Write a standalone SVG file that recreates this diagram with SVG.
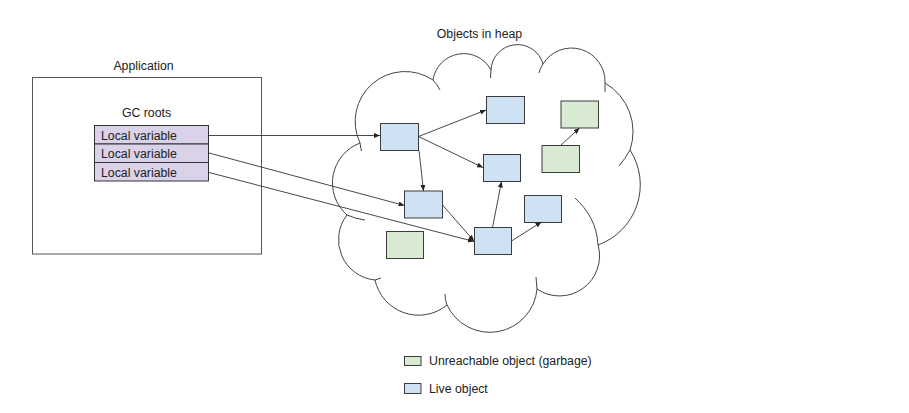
<svg xmlns="http://www.w3.org/2000/svg" width="909" height="413" viewBox="0 0 909 413">
<style>
text{font-family:"Liberation Sans",Arial,sans-serif;font-size:12.3px;fill:#222}
.frame{fill:#fff;stroke:#555;stroke-width:1}
.lv{fill:#d9d2e9;stroke:#333;stroke-width:1}
.live{fill:#cfe2f3;stroke:#3c3c3c;stroke-width:1}
.dead{fill:#d9ead3;stroke:#3c3c3c;stroke-width:1}
.cloud{fill:#fff;stroke:#444;stroke-width:1}
.tail{fill:none;stroke:#444;stroke-width:1}
.conn line{stroke:#333;stroke-width:0.9;marker-end:url(#ah)}
</style>
<defs>
<marker id="ah" markerWidth="6" markerHeight="5" refX="6" refY="2.5" orient="auto" markerUnits="userSpaceOnUse">
<path d="M0,0 L6,2.5 L0,5 Z" fill="#222"/>
</marker>
</defs>
<rect width="909" height="413" fill="#fff"/>

<g id="application">
<text x="143.5" y="70" text-anchor="middle">Application</text>
<rect class="frame" x="32.5" y="77.5" width="229" height="176.5"/>
<text x="146.5" y="117" text-anchor="middle">GC roots</text>
</g>
<g id="local-var-1"><rect class="lv" x="94.5" y="125.5" width="114" height="18.5"/><text x="101" y="139.5">Local variable</text></g>
<g id="local-var-2"><rect class="lv" x="94.5" y="144" width="114" height="18.5"/><text x="101" y="157.5">Local variable</text></g>
<g id="local-var-3"><rect class="lv" x="94.5" y="162.5" width="114" height="18.5"/><text x="101" y="176.5">Local variable</text></g>

<g id="heap">
<text x="479.5" y="38" text-anchor="middle">Objects in heap</text>
<path class="cloud" d="M360,143 A50,50 0 0 1 433,80 A31,31 0 0 1 491,70 A26.5,26.5 0 0 1 543,64 A33.5,33.5 0 0 1 605,83 A56.4,56.4 0 0 1 630,150 A64,64 0 0 1 598,245 A40,40 0 0 1 537,289 A47.3,47.3 0 0 1 447,305 A44.6,44.6 0 0 1 375,280 A40.4,40.4 0 0 1 347,215 A42.7,42.7 0 0 1 360,143 Z"/>
<path class="tail" d="M360,143 Q360.5,147 361.5,151 M433,80 Q437,84 440,90 M491,70 L490.5,78 M543,64 Q540,68 539,73 M605,83 L605,92 M630,150 Q625,159 619,166 M575,198 C588,210 597,225 598,245 M537,289 L536,277 M447,305 Q445,300 445,294 M375,280 L381,278 M347,215 Q356,219 365,220"/>
</g>

<g id="obj-b1"><rect class="live" x="380.5" y="123.5" width="38" height="27"/></g>
<g id="obj-b2"><rect class="live" x="486.5" y="96.5" width="38" height="27"/></g>
<g id="obj-b3"><rect class="live" x="483.5" y="154.5" width="37" height="27"/></g>
<g id="obj-b4"><rect class="live" x="404.5" y="191" width="38" height="27"/></g>
<g id="obj-b5"><rect class="live" x="474.5" y="227.5" width="37" height="27"/></g>
<g id="obj-b6"><rect class="live" x="524.5" y="195.5" width="37" height="27"/></g>
<g id="obj-g1"><rect class="dead" x="561" y="101" width="37.5" height="27"/></g>
<g id="obj-g2"><rect class="dead" x="542" y="145.5" width="37.5" height="27"/></g>
<g id="obj-g3"><rect class="dead" x="386.5" y="231.5" width="37" height="27"/></g>

<g id="connectors" class="conn">
<line x1="209" y1="135.5" x2="380" y2="135.5"/>
<line x1="209" y1="153" x2="404.5" y2="205.5"/>
<line x1="209" y1="172.5" x2="474" y2="241.5"/>
<line x1="418.5" y1="136.5" x2="486" y2="110"/>
<line x1="418.5" y1="136.5" x2="483" y2="167.5"/>
<line x1="419" y1="150.5" x2="423.5" y2="191"/>
<line x1="442.5" y1="205" x2="474" y2="241"/>
<line x1="492.5" y1="227.5" x2="501.5" y2="181.5"/>
<line x1="511.5" y1="241" x2="541.5" y2="222"/>
<line x1="560.5" y1="145.5" x2="579.5" y2="128"/>
</g>

<g id="legend">
<rect class="dead" x="404.5" y="356.5" width="16.5" height="9"/>
<text x="429" y="365">Unreachable object (garbage)</text>
<rect class="live" x="404.5" y="383.5" width="16.5" height="10"/>
<text x="429" y="393">Live object</text>
</g>
</svg>
